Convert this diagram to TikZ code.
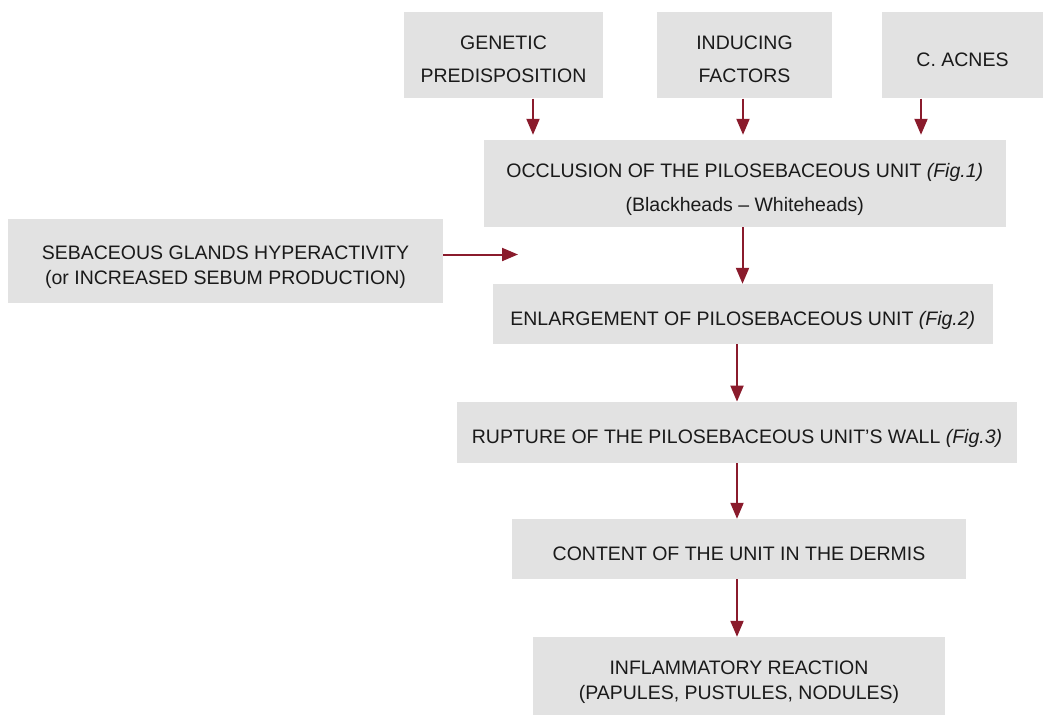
\documentclass[tikz,border=0pt]{standalone}
\usepackage{fontspec}
\setmainfont{Liberation Sans}
\usetikzlibrary{arrows.meta}
\definecolor{boxgray}{HTML}{E2E2E2}
\definecolor{arrowred}{HTML}{8A1B2C}
\definecolor{txt}{HTML}{1A1A1A}
\newcommand\tstr{\rule{0pt}{27pt}}
\newcommand\bstr{\rule[-5pt]{0pt}{0pt}}
\begin{document}
\begin{tikzpicture}[x=1pt,y=-1pt,
  box/.style={fill=boxgray, draw=none, text=txt, align=center, inner sep=0pt},
  fa/.style={font=\fontsize{19.5}{33}\selectfont},
  fo/.style={font=\fontsize{19.5}{34}\selectfont},
  fb/.style={font=\fontsize{19.5}{25}\selectfont},
  arr/.style={draw=arrowred, line width=2pt, -{Triangle[width=13pt,length=16pt]}},
  gap/.style={shorten >=5pt}]
\useasboundingbox (0,0) rectangle (1043,715);
\node[box,fa,minimum width=199pt,minimum height=86pt] (gen) at (503.5,55.3) {\tstr GENETIC\\PREDISPOSITION\bstr};
\node[box,fa,minimum width=175pt,minimum height=86pt] (ind) at (744.5,55.3) {\tstr INDUCING\\FACTORS\bstr};
\node[box,fa,minimum width=161pt,minimum height=86pt] (cac) at (962.5,55.3) {\tstr C. ACNES\bstr};
\node[box,fo,minimum width=522pt,minimum height=87pt] (occ) at (744.8,183.5) {\tstr OCCLUSION OF THE PILOSEBACEOUS UNIT \textit{(Fig.1)}\\(Blackheads – Whiteheads)\bstr};
\node[box,fb,minimum width=435pt,minimum height=84pt] (seb) at (225.5,261) {\tstr SEBACEOUS GLANDS HYPERACTIVITY\\(or INCREASED SEBUM PRODUCTION)\bstr};
\node[box,fa,minimum width=500pt,minimum height=60pt] (enl) at (742.8,314) {\tstr ENLARGEMENT OF PILOSEBACEOUS UNIT \textit{(Fig.2)}\bstr};
\node[box,fa,minimum width=560pt,minimum height=61pt] (rup) at (737,432.3) {\tstr RUPTURE OF THE PILOSEBACEOUS UNIT’S WALL \textit{(Fig.3)}\bstr};
\node[box,fa,minimum width=454pt,minimum height=60pt] (con) at (739,549) {\tstr CONTENT OF THE UNIT IN THE DERMIS\bstr};
\node[box,fb,minimum width=412pt,minimum height=78pt] (inf) at (739,676) {\tstr INFLAMMATORY REACTION\\(PAPULES, PUSTULES, NODULES)\bstr};
\coordinate (xg) at (533,0);
\coordinate (xi) at (743,0);
\coordinate (xc) at (921,0);
\coordinate (xo) at (742.5,0);
\coordinate (xm) at (737,0);
\coordinate (sebend) at (518,254.5);
\draw[arr,gap] (gen.south -| xg) -- (occ.north -| xg);
\draw[arr,gap] (ind.south -| xi) -- (occ.north -| xi);
\draw[arr,gap] (cac.south -| xc) -- (occ.north -| xc);
\draw[arr] (occ.south -| xo) -- (enl.north -| xo);
\draw[arr] (seb.east |- sebend) -- (sebend);
\draw[arr] (enl.south -| xm) -- (rup.north -| xm);
\draw[arr] (rup.south -| xm) -- (con.north -| xm);
\draw[arr] (con.south -| xm) -- (inf.north -| xm);
\end{tikzpicture}
\end{document}
